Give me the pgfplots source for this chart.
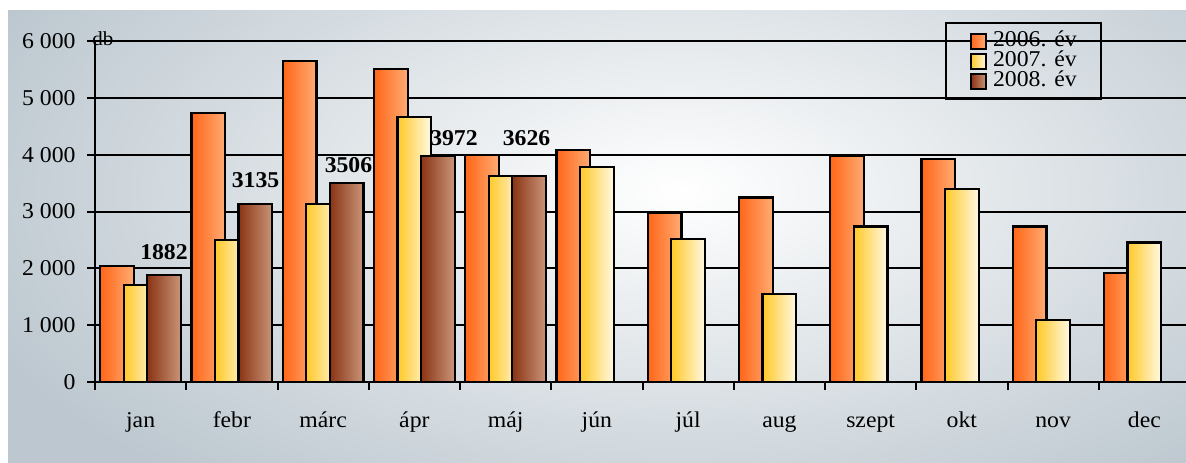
\documentclass[border=0pt]{standalone}
\usepackage{pgfplots}
\pgfplotsset{compat=1.18}
\usepackage{fontspec}
\setmainfont{Liberation Serif}[FakeStretch=1.05]
\definecolor{bgc}{HTML}{BCC7CF}
\definecolor{orA}{HTML}{FF6618}
\definecolor{orB}{HTML}{FFAC74}
\definecolor{yeA}{HTML}{FFC928}
\definecolor{yeB}{HTML}{FFF9E4}
\definecolor{brA}{HTML}{8A3414}
\definecolor{brB}{HTML}{C99579}
\pgfplotsset{
  sb/.style={ybar, forget plot, bar width=0.37, draw=black, line width=1.1pt},
  s06/.style={sb, bar shift=-0.2575, left color=orA, right color=orB},
  s07/.style={sb, bar shift=0, left color=yeA, right color=yeB},
  s08/.style={sb, bar shift=0.2575, left color=brA, right color=brB},
}
\begin{document}
\begin{tikzpicture}[font=\fontsize{11.3}{13}\selectfont]
\path[use as bounding box] (0,0) rectangle (593pt,231pt);
\clip (0,0) rectangle (593pt,231pt);
\fill[white] (-5pt,-5pt) rectangle (600pt,240pt);
\fill[bgc] (4pt,-5pt) rectangle (600pt,226pt);
\begin{scope}
\clip (4pt,-5pt) rectangle (600pt,226pt);
\shade[inner color=white, outer color=bgc] (340pt,136pt) ellipse [x radius=380pt, y radius=190pt];
\end{scope}
\begin{axis}[
  at={(47.5pt,40pt)}, anchor=south west,
  scale only axis, width=547.5pt, height=170.5pt,
  xmin=-0.5, xmax=11.5, ymin=0, ymax=6000,
  clip=false,
  axis x line*=bottom, axis y line*=left,
  axis line style={black, line width=1.2pt},
  tick align=outside, major tick length=4pt,
  tick style={black, line width=1pt},
  ytick={0,1000,...,6000},
  yticklabels={0,1~000,2~000,3~000,4~000,5~000,6~000},
  yticklabel style={anchor=east, inner sep=0pt, xshift=-5.5pt},
  ymajorgrids, grid style={black, line width=1pt},
  xtick={-0.5,0.5,...,11.5},
  xticklabels={},
  extra x ticks={0,1,...,11},
  extra x tick labels={jan,febr,márc,ápr,máj,jún,júl,aug,szept,okt,nov,dec},
  extra x tick style={major tick length=0pt, xticklabel style={anchor=base, inner sep=0pt, yshift=-22.5pt}},
  legend style={at={(0.7763,1.0557)}, anchor=north west, draw=black, line width=1pt,
    fill=none, inner xsep=12pt, inner ysep=4pt, row sep=0pt,
    nodes={inner sep=0pt, text height=7.5pt, text depth=2.5pt}, column sep=3pt,
    font=\fontsize{11.3}{13}\selectfont},
  legend cell align=left,
  legend image code/.code={\draw[#1, line width=1pt] (0pt,-3.75pt) rectangle (7.5pt,3.75pt);},
]
% 2006
\addplot[s06] coordinates {(0,2045)};
\addplot[s06] coordinates {(1,4730)};
\addplot[s06] coordinates {(2,5650)};
\addplot[s06] coordinates {(3,5505)};
\addplot[s06] coordinates {(4,3990)};
\addplot[s06] coordinates {(5,4080)};
\addplot[s06] coordinates {(6,2970)};
\addplot[s06] coordinates {(7,3245)};
\addplot[s06] coordinates {(8,3970)};
\addplot[s06] coordinates {(9,3930)};
\addplot[s06] coordinates {(10,2735)};
\addplot[s06] coordinates {(11,1915)};
% 2007
\addplot[s07] coordinates {(0,1705)};
\addplot[s07] coordinates {(1,2495)};
\addplot[s07] coordinates {(2,3130)};
\addplot[s07] coordinates {(3,4665)};
\addplot[s07] coordinates {(4,3626)};
\addplot[s07] coordinates {(5,3790)};
\addplot[s07] coordinates {(6,2515)};
\addplot[s07] coordinates {(7,1545)};
\addplot[s07] coordinates {(8,2735)};
\addplot[s07] coordinates {(9,3390)};
\addplot[s07] coordinates {(10,1085)};
\addplot[s07] coordinates {(11,2455)};
% 2008
\addplot[s08] coordinates {(0,1882)};
\addplot[s08] coordinates {(1,3135)};
\addplot[s08] coordinates {(2,3506)};
\addplot[s08] coordinates {(3,3972)};
\addplot[s08] coordinates {(4,3626)};
\addlegendimage{draw=black, left color=orA, right color=orB}
\addlegendimage{draw=black, left color=yeA, right color=yeB}
\addlegendimage{draw=black, left color=brA, right color=brB}
\legend{2006. év,2007. év,2008. év}
\node[font=\fontsize{11.3}{13}\selectfont\bfseries, anchor=base] at (axis cs:0.256,2164) {1882};
\node[font=\fontsize{11.3}{13}\selectfont\bfseries, anchor=base] at (axis cs:1.259,3431) {3135};
\node[font=\fontsize{11.3}{13}\selectfont\bfseries, anchor=base] at (axis cs:2.278,3695) {3506};
\node[font=\fontsize{11.3}{13}\selectfont\bfseries, anchor=base] at (axis cs:3.434,4153) {3972};
\node[font=\fontsize{11.3}{13}\selectfont\bfseries, anchor=base] at (axis cs:4.229,4153) {3626};
\node[font=\fontsize{10}{12}\selectfont, anchor=base west, inner sep=0pt] at (rel axis cs:-0.0027,0.988) {db};
\end{axis}
\end{tikzpicture}
\end{document}
